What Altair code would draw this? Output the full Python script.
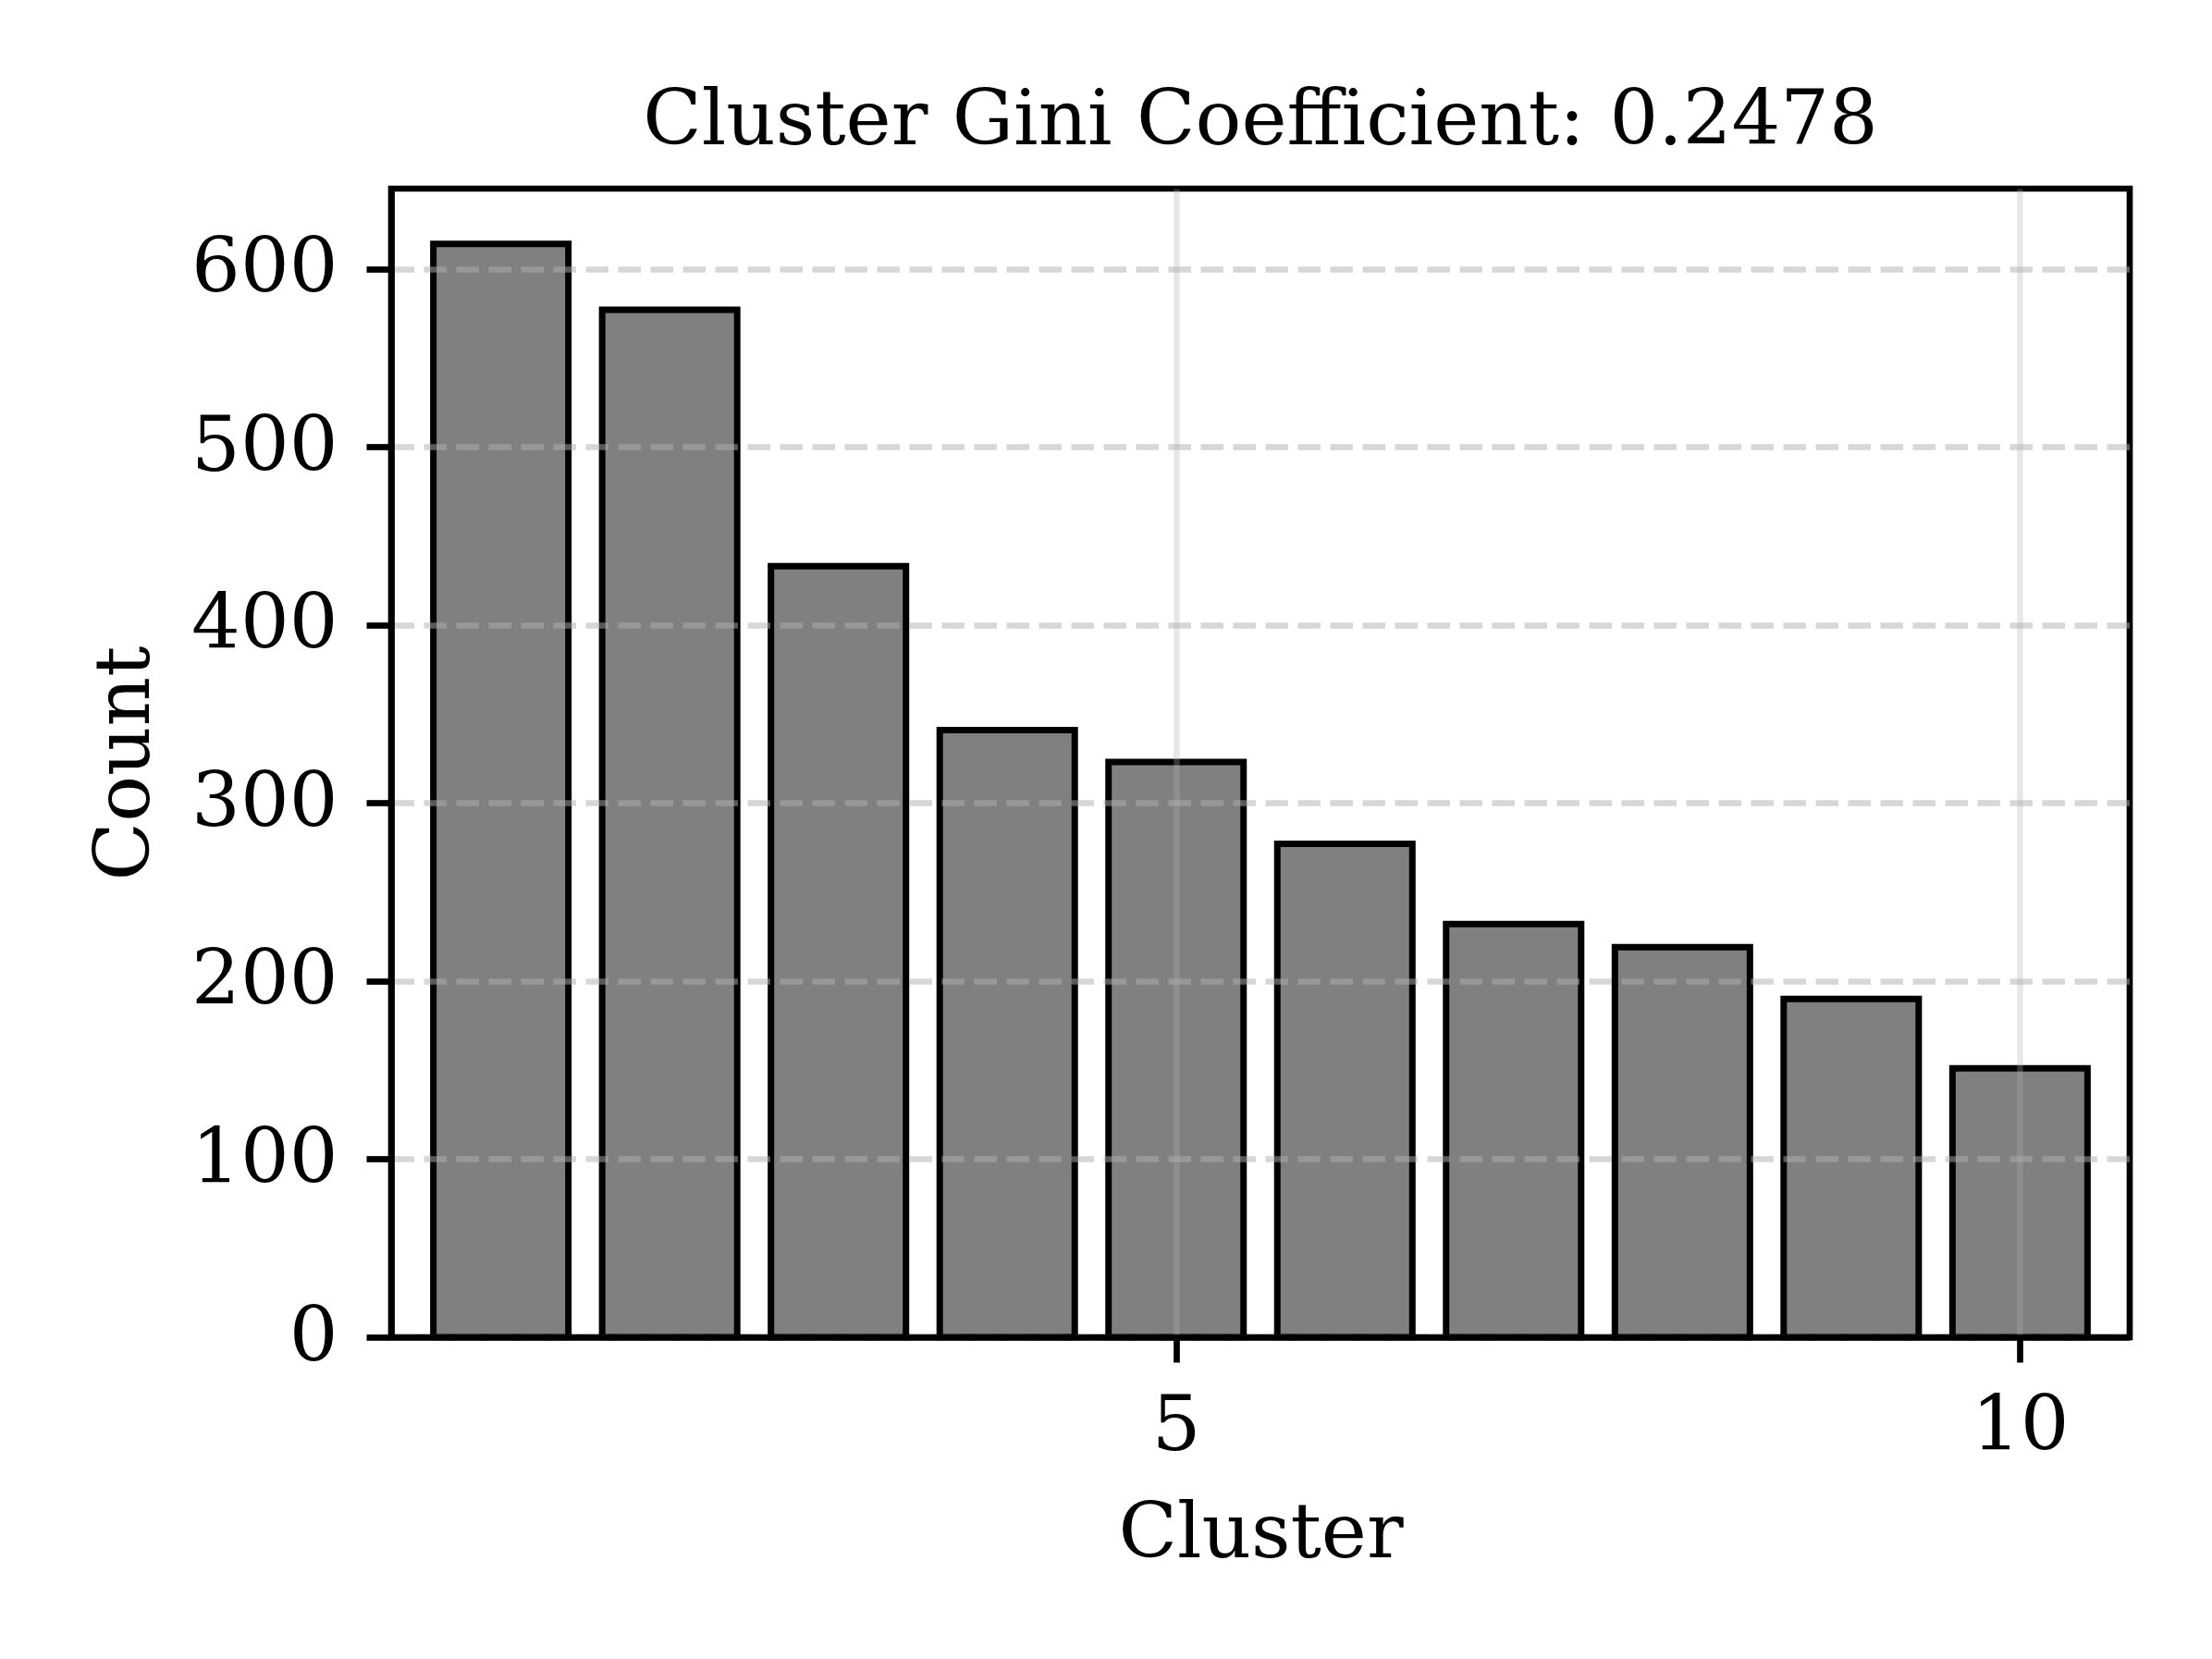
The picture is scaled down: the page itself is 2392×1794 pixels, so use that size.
import altair as alt
import pandas as pd

# ---- data ----
clusters = [1, 2, 3, 4, 5, 6, 7, 8, 9, 10]
counts = [614, 577, 433, 341, 323, 277, 232, 219, 190, 151]
x_ticks = [5, 10]
y_ticks = [0, 100, 200, 300, 400, 500, 600]
title_text = "Cluster Gini Coefficient: 0.2478"
x_title = "Cluster"
y_title = "Count"

df = pd.DataFrame({"cluster": clusters, "count": counts})

FONT = "DejaVu Serif"
FS = 83
LW = 6.7
W, H = 1880, 1242

xscale = alt.Scale(domain=[0.35, 10.65], nice=False, zero=False)
yscale = alt.Scale(domain=[0, 645], nice=False)

x_axis = alt.Axis(
    values=x_ticks, format="d", title=x_title,
    grid=True, gridColor="#b0b0b0", gridOpacity=0.3, gridWidth=6.5,
    domain=True, domainColor="black", domainWidth=LW,
    ticks=True, tickColor="black", tickWidth=LW, tickSize=27,
    labelFont=FONT, labelFontSize=FS, labelColor="black",
    labelBaseline="alphabetic", labelPadding=94, labelFlush=False,
    titleFont=FONT, titleFontSize=FS, titleColor="black", titleFontWeight="normal",
    titleX=W / 2, titleY=237, titleBaseline="alphabetic", titleAlign="center",
    zindex=1,
)
y_axis = alt.Axis(
    values=y_ticks, format="d", title=y_title,
    grid=True, gridColor="#b0b0b0", gridOpacity=0.5, gridWidth=6.5,
    gridDash=[24.5, 10.5],
    domain=True, domainColor="black", domainWidth=LW,
    ticks=True, tickColor="black", tickWidth=LW, tickSize=27,
    labelFont=FONT, labelFontSize=FS, labelColor="black",
    labelBaseline="middle", labelPadding=31, labelFlush=False,
    titleFont=FONT, titleFontSize=FS, titleColor="black", titleFontWeight="normal",
    titleX=-263, titleY=H / 2, titleBaseline="alphabetic", titleAlign="center",
    titleAngle=270,
    zindex=1,
)

bars = (
    alt.Chart(df)
    .transform_calculate(
        x0="datum.cluster - 0.4", x1="datum.cluster + 0.4", base="0"
    )
    .mark_bar(fill="#808080", stroke="black", strokeWidth=7, opacity=1)
    .encode(
        x=alt.X("x0:Q", scale=xscale, axis=x_axis),
        x2="x1:Q",
        y=alt.Y("count:Q", scale=yscale, axis=y_axis),
        y2="base:Q",
    )
)

chart = (
    bars.properties(
        width=W,
        height=H,
        background="white",
        title=alt.TitleParams(
            text=title_text, font=FONT, fontSize=FS, fontWeight="normal",
            color="black", anchor="middle", baseline="alphabetic", offset=-35,
        ),
        autosize=alt.AutoSizeParams(type="none"),
        padding={"left": 415, "top": 196, "right": 60, "bottom": 300},
    )
    .configure_view(stroke="#000000", strokeWidth=LW, strokeOpacity=1)
)

chart.save("out.html", embed_options={"renderer": "svg", "actions": False})
